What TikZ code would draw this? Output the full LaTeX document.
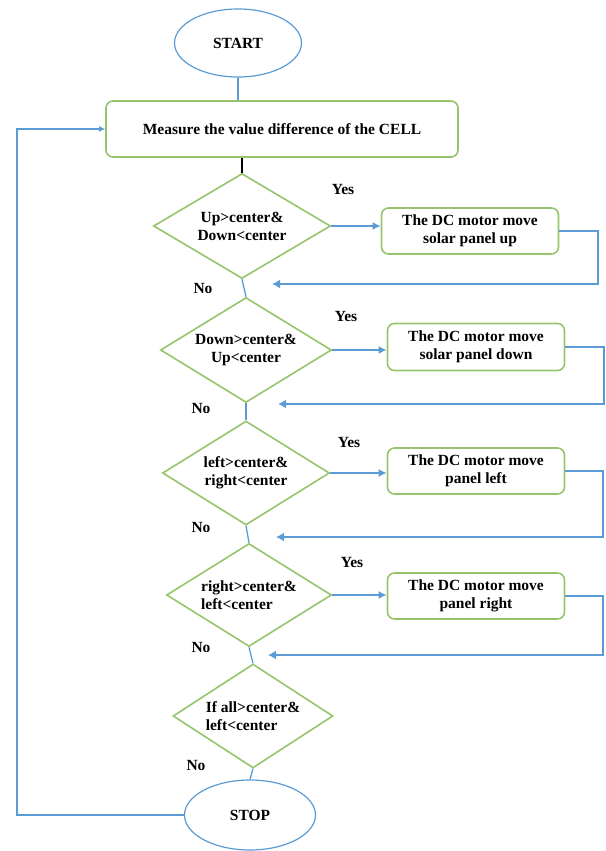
\documentclass[tikz,border=0pt]{standalone}
\usepackage{fontspec}
\setmainfont{Liberation Serif}
\usetikzlibrary{shapes.geometric,arrows.meta}
\definecolor{fblue}{HTML}{5B9BD5}
\definecolor{fgreen}{HTML}{96C46C}
\tikzset{txt/.style={font=\fontsize{15.5}{18}\selectfont\bfseries}}
\tikzset{term/.style={ellipse,draw=fblue,line width=1.2pt,txt}}
\tikzset{proc/.style={draw=fgreen,line width=1.6pt,rounded corners=7pt,align=center,txt}}
\tikzset{cond/.style={diamond,draw=fgreen,line width=1.6pt,inner sep=0pt,shape aspect=1.65,txt}}
\tikzset{flow/.style={fblue,line width=1.3pt}}
\tikzset{yesarr/.style={fblue,line width=2.4pt,-{Latex[length=8pt,width=8pt]}}}
\tikzset{ret/.style={fblue,line width=2.8pt,-{Latex[length=8pt,width=9pt]}}}

\begin{document}
\begin{tikzpicture}[x=1pt,y=-1pt]
            \useasboundingbox (0,0) rectangle (605,851);
            % start, measure and stop
            \node[term,minimum width=127pt,minimum height=68pt] (start) at (238,43) {START};
            \node[proc,minimum width=352pt,minimum height=56pt] (measure) at (282,129) {Measure the value difference of the CELL};
            \node[term,minimum width=131pt,minimum height=70pt] (stop) at (250,815) {STOP};
            % the conditions
            \node[cond,align=center,minimum width=177pt,minimum height=105pt] (c1) at (242,226) {Up>center\&\\Down<center};
            \node[cond,align=center,minimum width=171pt,minimum height=105pt] (c2) at (246,350) {Down>center\&\\Up<center};
            \node[cond,align=center,minimum width=167pt,minimum height=104pt] (c3) at (246,473) {left>center\&\\right<center};
            \node[cond,align=left,minimum width=165pt,minimum height=103pt] (c4) at (249,595) {right>center\&\\left<center};
            \node[cond,align=left,minimum width=160pt,minimum height=104pt] (c5) at (253,716) {If all>center\&\\left<center};
            % the motor boxes
            \node[proc,minimum width=177pt,minimum height=46pt] (m1) at (470,231) {The DC motor move\\solar panel up};
            \node[proc,minimum width=177pt,minimum height=47pt] (m2) at (476,347) {The DC motor move\\solar panel down};
            \node[proc,minimum width=177pt,minimum height=46pt] (m3) at (476,471) {The DC motor move\\panel left};
            \node[proc,minimum width=177pt,minimum height=46pt] (m4) at (476,596) {The DC motor move\\panel right};
            % labels
            \node[txt] (yes1) at (343,189) {Yes};
            \node[txt] (yes2) at (346,316) {Yes};
            \node[txt] (yes3) at (349,442) {Yes};
            \node[txt] (yes4) at (352,562) {Yes};
            \node[txt] (no1) at (203,288) {No};
            \node[txt] (no2) at (201,408) {No};
            \node[txt] (no3) at (201,527) {No};
            \node[txt] (no4) at (201,647) {No};
            \node[txt] (no5) at (196,765) {No};
            % the main line
            \draw[flow] (start.south) -- (start.south |- measure.north);
            \draw[line width=2.5pt] (c1.north |- measure.south) -- (c1.north);
            \draw[flow] (c1.south) -- (c2.north);
            \draw[flow] (c2.south) -- (c3.north);
            \draw[flow] (c3.south) -- (c4.north);
            \draw[flow] (c4.south) -- (c5.north);
            \draw[flow] (c5.south) -- (stop.north);
            % yes branches
            \draw[yesarr] (c1.east) -- (c1.east -| m1.west);
            \draw[yesarr] (c2.east) -- (c2.east -| m2.west);
            \draw[yesarr] (c3.east) -- (c3.east -| m3.west);
            \draw[yesarr] (c4.east) -- (c4.east -| m4.west);
            % back to the main line
            \coordinate (e1) at (598,284);
            \coordinate (t1) at (272,284);
            \coordinate (e2) at (604,404);
            \coordinate (t2) at (278,404);
            \coordinate (e3) at (603,537);
            \coordinate (t3) at (276,537);
            \coordinate (e4) at (603,655);
            \coordinate (t4) at (268,655);
            \draw[ret] (m1.east) -| (e1) -- (t1);
            \draw[ret] (m2.east) -| (e2) -- (t2);
            \draw[ret] (m3.east) -| (e3) -- (t3);
            \draw[ret] (m4.east) -| (e4) -- (t4);
            % loop from stop
            \coordinate (lp) at (17,815);
            \draw[fblue,line width=2.2pt,-{Latex[length=6pt,width=6pt]}] (stop.west) -- (lp) |- (measure.west);
        \end{tikzpicture}
\end{document}
